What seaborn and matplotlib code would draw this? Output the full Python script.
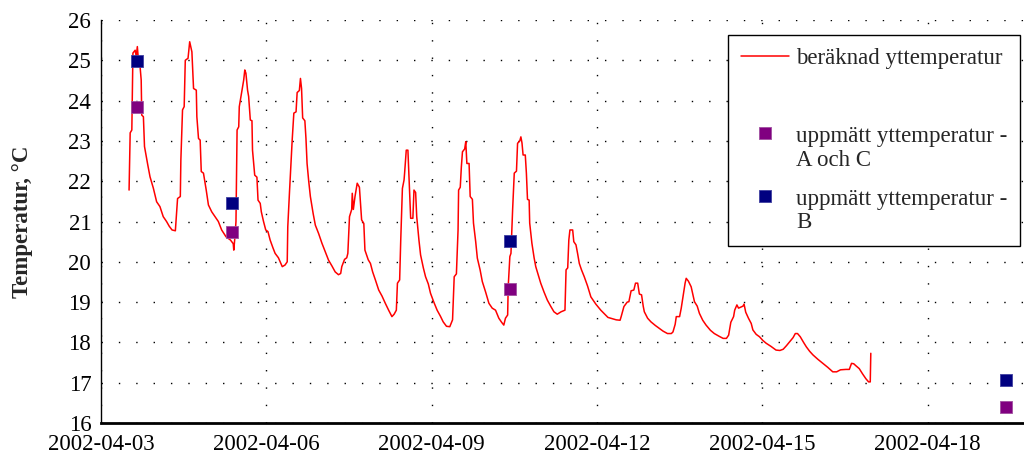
#============== Yttemperatur, beräknad och uppmätt ==============

import matplotlib
matplotlib.use('Agg')
import matplotlib.pyplot as plt
import pandas as pd
import seaborn as sns

start = pd.Timestamp('2002-04-03')

# beräknad yttemperatur: dagar efter 2002-04-03 00:00 och temperatur
dagar = [0.51, 0.53, 0.56, 0.58, 0.62, 0.64, 0.66, 0.68, 0.71, 0.73, 0.74, 0.77, 0.79, 0.85, 0.89, 0.95,
         1.01, 1.07, 1.13, 1.19, 1.24, 1.29, 1.35, 1.39, 1.44, 1.45, 1.48, 1.51, 1.53, 1.58, 1.61, 1.65,
         1.68, 1.73, 1.74, 1.77, 1.80, 1.82, 1.86, 1.91, 1.95, 2.01, 2.07, 2.13, 2.19, 2.27, 2.35, 2.40,
         2.41, 2.43, 2.45, 2.47, 2.50, 2.51, 2.56, 2.59, 2.61, 2.63, 2.66, 2.68, 2.71, 2.74, 2.75, 2.79,
         2.83, 2.85, 2.89, 2.91, 2.95, 2.99, 3.03, 3.07, 3.12, 3.16, 3.22, 3.29, 3.34, 3.38, 3.39, 3.42,
         3.47, 3.50, 3.54, 3.56, 3.60, 3.62, 3.64, 3.66, 3.70, 3.72, 3.74, 3.77, 3.80, 3.85, 3.89, 3.95,
         4.01, 4.07, 4.13, 4.19, 4.25, 4.31, 4.35, 4.37, 4.42, 4.46, 4.48, 4.51, 4.55, 4.56, 4.58, 4.61,
         4.65, 4.69, 4.73, 4.77, 4.79, 4.85, 4.89, 4.93, 4.98, 5.04, 5.10, 5.16, 5.22, 5.28, 5.32, 5.36,
         5.38, 5.42, 5.44, 5.47, 5.50, 5.51, 5.54, 5.57, 5.60, 5.62, 5.66, 5.68, 5.71, 5.73, 5.77, 5.80,
         5.85, 5.89, 5.94, 5.98, 6.04, 6.10, 6.16, 6.21, 6.27, 6.33, 6.38, 6.41, 6.45, 6.48, 6.49, 6.52,
         6.54, 6.56, 6.60, 6.62, 6.64, 6.68, 6.70, 6.74, 6.76, 6.80, 6.83, 6.88, 6.92, 6.98, 7.04, 7.10,
         7.16, 7.22, 7.27, 7.31, 7.34, 7.38, 7.39, 7.42, 7.44, 7.46, 7.47, 7.50, 7.54, 7.56, 7.60, 7.62,
         7.64, 7.66, 7.70, 7.72, 7.74, 7.77, 7.78, 7.82, 7.86, 7.89, 7.94, 7.98, 8.04, 8.10, 8.16, 8.22,
         8.28, 8.35, 8.42, 8.44, 8.47, 8.49, 8.51, 8.56, 8.58, 8.62, 8.65, 8.68, 8.72, 8.77, 8.83, 8.89,
         8.98, 9.07, 9.20, 9.35, 9.42, 9.44, 9.49, 9.55, 9.58, 9.62, 9.67, 9.70, 9.74, 9.77, 9.81, 9.84,
         9.86, 9.92, 9.98, 10.06, 10.13, 10.20, 10.28, 10.35, 10.38, 10.42, 10.44, 10.50, 10.53, 10.57, 10.60, 10.62,
         10.66, 10.71, 10.74, 10.77, 10.82, 10.86, 10.92, 10.98, 11.06, 11.13, 11.22, 11.29, 11.35, 11.39, 11.43, 11.48,
         11.50, 11.54, 11.57, 11.62, 11.65, 11.67, 11.70, 11.75, 11.80, 11.83, 11.89, 11.95, 12.01, 12.07, 12.16, 12.25,
         12.32, 12.38, 12.44, 12.50, 12.56, 12.60, 12.64, 12.69, 12.75, 12.80, 12.86, 12.92, 13.01, 13.10, 13.19, 13.28,
         13.35, 13.42, 13.52, 13.58, 13.62, 13.66, 13.70, 13.76, 13.82, 13.88, 13.93, 13.96, 13.97]
temp = [21.78, 23.20, 23.27, 25.18, 25.25, 25.10, 25.34, 25.00, 24.84, 24.51, 23.64, 23.60, 22.86, 22.40, 22.11, 21.83,
        21.49, 21.37, 21.12, 21.00, 20.88, 20.79, 20.77, 21.57, 21.62, 22.53, 23.77, 23.85, 25.00, 25.05, 25.46, 25.21,
        24.30, 24.26, 23.60, 23.06, 23.02, 22.24, 22.20, 21.78, 21.41, 21.24, 21.12, 21.00, 20.79, 20.62, 20.54, 20.45,
        20.29, 20.60, 21.00, 23.27, 23.35, 23.85, 24.26, 24.51, 24.76, 24.68, 24.26, 24.10, 23.52, 23.50, 22.77, 22.15,
        22.10, 21.53, 21.45, 21.24, 21.00, 20.79, 20.75, 20.54, 20.35, 20.21, 20.10, 19.88, 19.92, 20.00, 20.87, 21.70,
        23.02, 23.69, 23.72, 24.20, 24.25, 24.55, 24.30, 23.57, 23.50, 23.06, 22.44, 22.00, 21.62, 21.20, 20.91, 20.70,
        20.46, 20.25, 20.04, 19.90, 19.75, 19.68, 19.71, 19.88, 20.06, 20.10, 20.21, 21.12, 21.30, 21.70, 21.30, 21.62,
        21.95, 21.85, 21.04, 20.95, 20.29, 20.05, 19.96, 19.75, 19.55, 19.30, 19.15, 18.97, 18.80, 18.64, 18.70, 18.80,
        19.47, 19.55, 20.54, 21.82, 22.03, 22.20, 22.77, 22.77, 21.78, 21.08, 21.08, 21.78, 21.72, 21.12, 20.54, 20.17,
        19.85, 19.63, 19.45, 19.22, 19.00, 18.80, 18.65, 18.51, 18.40, 18.39, 18.56, 19.63, 19.70, 20.79, 21.78, 21.85,
        22.36, 22.73, 22.80, 22.98, 22.44, 22.44, 21.62, 21.55, 20.96, 20.50, 20.09, 19.80, 19.51, 19.25, 18.97, 18.85,
        18.80, 18.60, 18.50, 18.43, 18.60, 18.68, 19.38, 20.13, 20.21, 20.90, 21.29, 22.20, 22.25, 22.94, 23.00, 23.10,
        22.95, 22.65, 22.65, 22.20, 21.55, 21.53, 20.96, 20.46, 20.10, 19.88, 19.65, 19.47, 19.25, 19.05, 18.90, 18.76,
        18.70, 18.76, 18.80, 19.80, 19.85, 20.54, 20.79, 20.79, 20.50, 20.42, 20.20, 19.96, 19.80, 19.63, 19.40, 19.13,
        18.95, 18.80, 18.62, 18.56, 18.55, 18.64, 18.89, 19.00, 19.01, 19.28, 19.30, 19.47, 19.47, 19.20, 19.18, 18.90,
        18.76, 18.60, 18.51, 18.42, 18.35, 18.28, 18.22, 18.22, 18.26, 18.45, 18.64, 18.64, 18.85, 19.20, 19.47, 19.59,
        19.52, 19.38, 19.20, 19.01, 18.90, 18.72, 18.55, 18.43, 18.30, 18.22, 18.15, 18.10, 18.10, 18.18, 18.50, 18.64,
        18.80, 18.93, 18.85, 18.88, 18.90, 18.95, 18.75, 18.60, 18.47, 18.31, 18.20, 18.14, 18.05, 17.98, 17.90, 17.81,
        17.80, 17.83, 17.92, 18.02, 18.12, 18.22, 18.22, 18.14, 18.00, 17.89, 17.78, 17.69, 17.58, 17.48, 17.38, 17.27,
        17.27, 17.32, 17.33, 17.33, 17.48, 17.47, 17.42, 17.35, 17.22, 17.10, 17.02, 17.02, 17.73]

# uppmätt yttemperatur
matt_dagar = [0.65, 2.38, 7.42, 16.42]
matt_AC = [23.84, 20.74, 19.33, 16.40]
matt_B = [24.98, 21.46, 20.52, 17.07]

tick_labels = ['2002-04-03', '2002-04-06', '2002-04-09', '2002-04-12', '2002-04-15', '2002-04-18']
y_ticks = list(range(16, 27))

sns.set_style('white')
plt.rcParams['font.family'] = ['Liberation Serif', 'DejaVu Serif']

df = pd.DataFrame({'tid': start + pd.to_timedelta(dagar, unit='D'), 'temp': temp})
dm = pd.DataFrame({'tid': start + pd.to_timedelta(matt_dagar, unit='D'), 'AC': matt_AC, 'B': matt_B})

fig = plt.figure(figsize=(10.24, 4.65), dpi=100)
ax = fig.add_axes([0.0986, 0.0903, 0.9014, 0.8667])

sns.lineplot(data=df, x='tid', y='temp', color='red', lw=1.1, estimator=None, ax=ax,
             label='beräknad yttemperatur')
sns.scatterplot(data=dm, x='tid', y='AC', marker='s', s=80, color='#800080', edgecolor='#a050a0',
                linewidth=0.6, zorder=3, ax=ax, label='uppmätt yttemperatur -\nA och C')
sns.scatterplot(data=dm, x='tid', y='B', marker='s', s=80, color='#000080', edgecolor='#4040a0',
                linewidth=0.6, zorder=3, ax=ax, label='uppmätt yttemperatur -\nB')

ax.set_xlim(start, start + pd.Timedelta(days=16.75))
ax.set_ylim(16, 26)
ax.set_xticks(pd.to_datetime(tick_labels))
ax.set_xticklabels(tick_labels)
ax.set_yticks(y_ticks)
ax.tick_params(axis='both', direction='out', length=4, width=1, colors='black', labelsize=16.5, pad=3)
ax.tick_params(axis='x', pad=4)

ax.grid(True, color='black', linestyle=(0, (1, 11.5)), linewidth=1.0)
for s in ['top', 'right']:
    ax.spines[s].set_visible(False)
ax.spines['left'].set_color('black')
ax.spines['left'].set_linewidth(1.0)
ax.spines['bottom'].set_color('black')
ax.spines['bottom'].set_linewidth(2.0)

ax.set_xlabel('')
ax.set_ylabel('Temperatur, °C', fontweight='bold', fontsize=16.5)
ax.yaxis.set_label_coords(-0.074, 0.5)

# legend med tom rad efter första posten
h, l = ax.get_legend_handles_labels()
tom, = ax.plot([], [], ' ')
h = [h[0], tom, h[1], h[2]]
l = [l[0], ' ', l[1], l[2]]
leg = ax.legend(h, l, loc='upper right', bbox_to_anchor=(0.9957, 0.9628), fontsize=16.5,
                frameon=True, fancybox=False, framealpha=1, edgecolor='black',
                handlelength=2.1, handletextpad=0.3, labelspacing=0.8, borderpad=0.55,
                borderaxespad=0, scatteryoffsets=[1.45])
leg.get_frame().set_linewidth(1.0)
for t in leg.get_texts():
    t.set_linespacing(1.15)

fig.savefig('out.png', dpi=100)
